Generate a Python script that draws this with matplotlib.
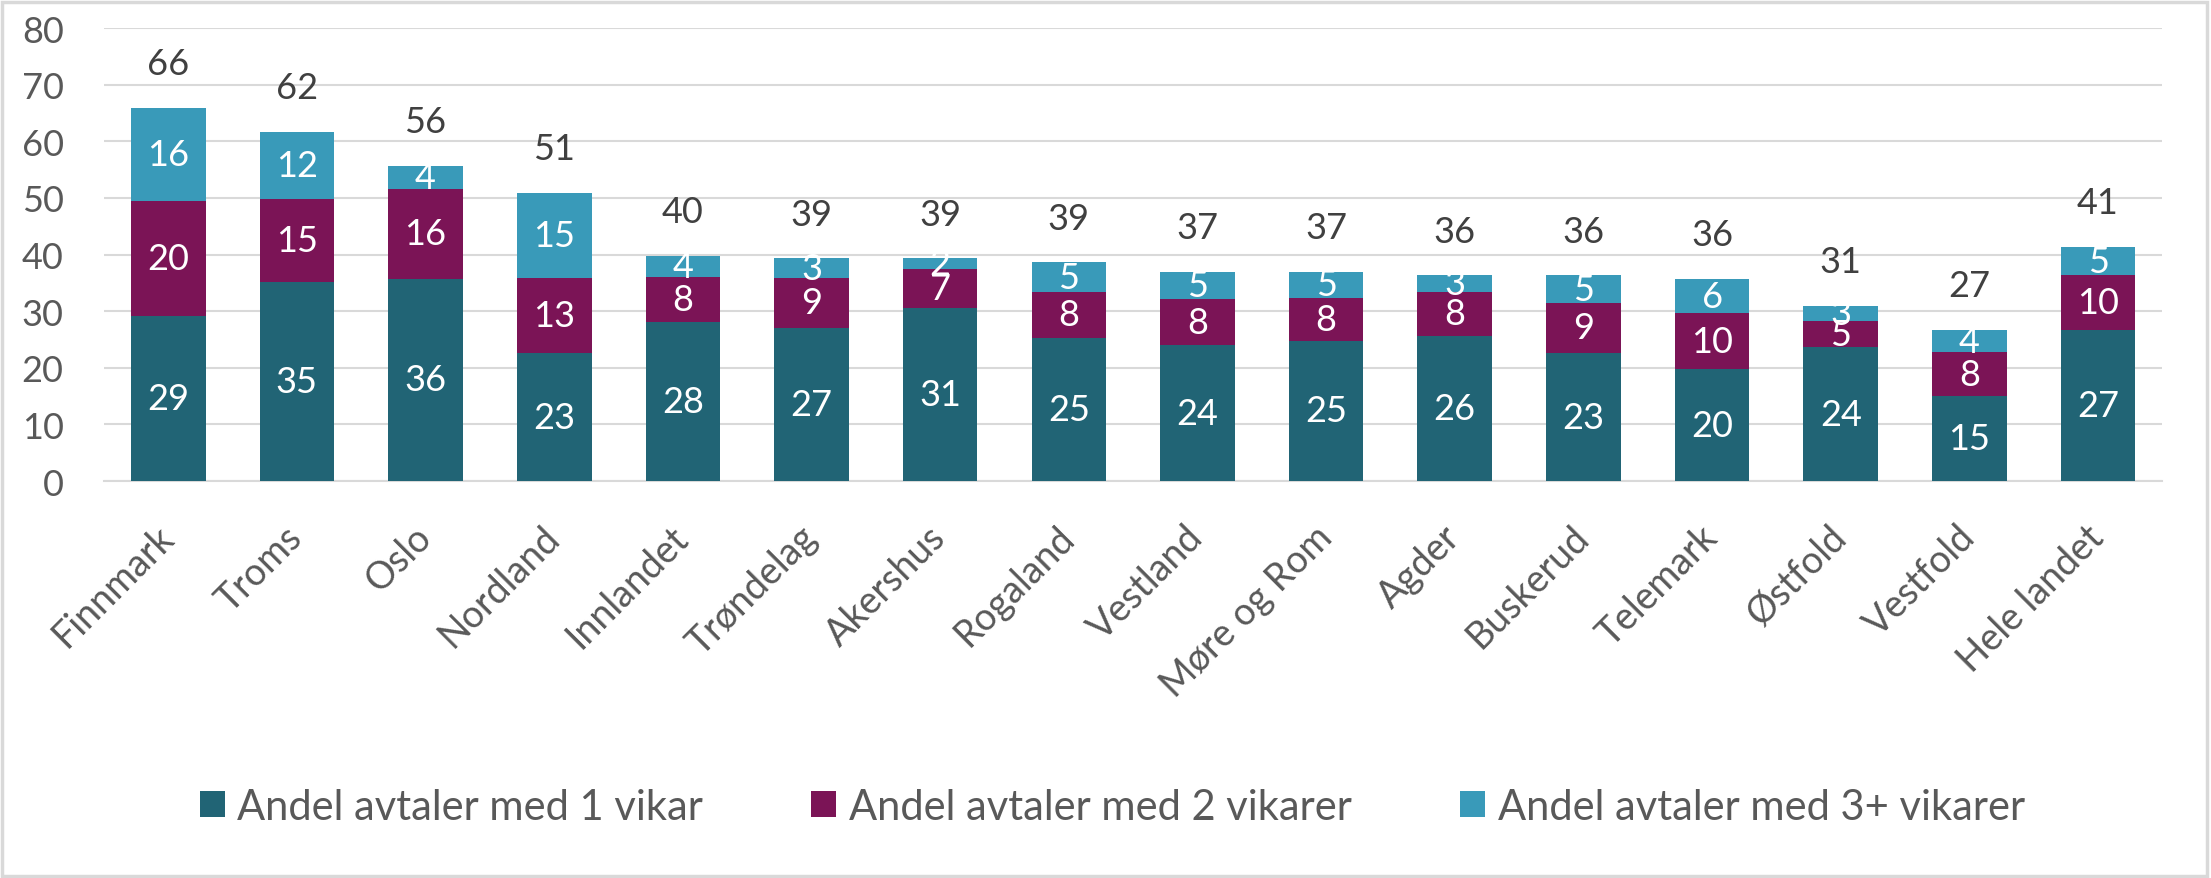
import matplotlib
matplotlib.use("Agg")
import matplotlib.pyplot as plt
import numpy as np
from matplotlib.patches import Rectangle

plt.rcParams['font.family'] = ['Lato', 'DejaVu Sans']

# data (prosent)
fylker = ['Finnmark', 'Troms', 'Oslo', 'Nordland', 'Innlandet', 'Trøndelag',
          'Akershus', 'Rogaland', 'Vestland', 'Møre og Rom', 'Agder',
          'Buskerud', 'Telemark', 'Østfold', 'Vestfold', 'Hele landet']
en_vikar = [29.1, 35.1, 35.7, 22.6, 28.1, 27.0, 30.6, 25.3, 24.0, 24.8, 25.6,
            22.6, 19.7, 23.6, 15.0, 26.7]
to_vikarer = [20.4, 14.7, 15.9, 13.2, 8.0, 8.9, 6.9, 8.1, 8.1, 7.6, 7.8,
              8.9, 10.0, 4.6, 7.8, 9.6]
tre_vikarer = [16.3, 11.8, 4.1, 15.1, 3.7, 3.4, 1.8, 5.2, 4.9, 4.6, 2.9,
               4.8, 5.9, 2.7, 3.8, 5.0]
serier = ['Andel avtaler med 1 vikar', 'Andel avtaler med 2 vikarer',
          'Andel avtaler med 3+ vikarer']
farger = ['#216475', '#7b1456', '#399ab9']

fig = plt.figure(figsize=(22.11, 8.79), dpi=100)
ax = fig.add_axes([0.047, 0.4516, 0.931, 0.5154])

x = np.arange(len(fylker))
bunn = np.zeros(len(fylker))
for verdier, navn, farge in zip([en_vikar, to_vikarer, tre_vikarer], serier, farger):
    verdier = np.array(verdier)
    ax.bar(x, verdier, 0.58, bottom=bunn, color=farge, label=navn, zorder=3)
    for xi, b, v in zip(x, bunn, verdier):
        ax.text(xi, b + v / 2, f"{v:.0f}", ha='center', va='center',
                color='white', fontsize=26, zorder=4)
    bunn = bunn + verdier

# totalsum over hver stolpe
for xi, tot in zip(x, bunn):
    ax.annotate(f"{tot:.0f}", (xi, tot), xytext=(0, 32), textcoords='offset points',
                ha='center', va='center', color='#404040', fontsize=26)

ax.set_xlim(-0.5, len(fylker) - 0.5)
ax.set_ylim(0, 80)
ax.set_yticks(range(0, 81, 10))
ax.yaxis.grid(True, color='#d9d9d9', linewidth=1.5, zorder=0)
ax.set_axisbelow(True)
for s in ['top', 'right', 'left']:
    ax.spines[s].set_visible(False)
ax.spines['bottom'].set_color('#d9d9d9')
ax.spines['bottom'].set_linewidth(1.5)
ax.tick_params(axis='y', length=0, pad=29, labelsize=26, labelcolor='#595959')
ax.tick_params(axis='x', length=0, pad=36)
ax.set_xticks(x)
ax.set_xticklabels(fylker, rotation=45, ha='right', va='center',
                   rotation_mode='anchor', fontsize=27, color='#595959')

handles, labels = ax.get_legend_handles_labels()
fig.legend(handles, labels, loc='center', bbox_to_anchor=(0.503, 0.081), ncol=3,
           frameon=False, fontsize=30, labelcolor='#595959', handlelength=0.6,
           handleheight=0.6, handletextpad=0.3, columnspacing=2.6)

fig.patches.append(Rectangle((0.001, 0.002), 0.997, 0.995, transform=fig.transFigure,
                             fill=False, edgecolor='#d9d9d9', linewidth=2.5))

fig.savefig('out.png', dpi=100)
